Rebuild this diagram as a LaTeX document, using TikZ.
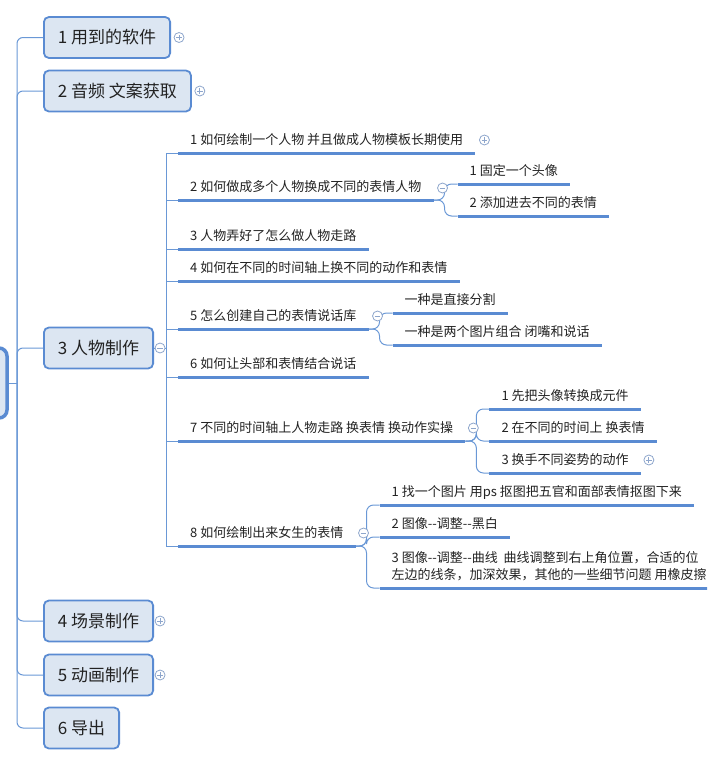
\documentclass[tikz,border=0pt]{standalone}
\usepackage{fontspec}
\usepackage{tikz}
\newfontfamily\cjk{Noto Sans CJK SC}

\definecolor{boxfill}{HTML}{DCE6F2}
\definecolor{boxline}{HTML}{5A8BD2}
\definecolor{lnk}{HTML}{6A98D6}
\definecolor{foldc}{HTML}{8EA6CC}
\definecolor{txt}{HTML}{222222}

\tikzset{
  topic/.style={draw=boxline, line width=1.8pt, fill=boxfill, rounded corners=5pt, anchor=west,
    minimum height=41pt, inner xsep=14pt, font=\cjk\fontsize{17}{20}\selectfont, text=txt},
  subtopic/.style={anchor=south west, inner xsep=12pt, inner ysep=6pt, text depth=2pt,
    align=left, font=\cjk\fontsize{13}{17}\selectfont, text=txt},
  uline/.style={draw=boxline, line width=3pt},
  conn/.style={draw=lnk, line width=1pt},
  fold/.style={circle, draw=foldc, fill=white, line width=0.8pt, minimum size=10pt, inner sep=0pt},
  foldminus/.style={fold, path picture={
    \draw[foldc, line width=0.8pt] ([xshift=-2.8pt]path picture bounding box.center) -- ([xshift=2.8pt]path picture bounding box.center);}},
  foldplus/.style={fold, path picture={
    \draw[foldc, line width=0.8pt] ([xshift=-2.8pt]path picture bounding box.center) -- ([xshift=2.8pt]path picture bounding box.center)
      ([yshift=-2.8pt]path picture bounding box.center) -- ([yshift=2.8pt]path picture bounding box.center);}},
}

\begin{document}
\begin{tikzpicture}[x=1pt, y=-1pt]
  \useasboundingbox (0,0) rectangle (707,763);
  \clip (0,0) rectangle (707,763);

  % root and main topics
  \node[draw=boxline, line width=3.5pt, fill=boxfill, rounded corners=8pt, minimum width=100pt, minimum height=70pt] (root) at (-43,383) {};
  \node[topic] (t1) at (43,37.5) {1 用到的软件};
  \node[topic] (t2) at (43,91) {2 音频 文案获取};
  \node[topic] (t3) at (43,348) {3 人物制作};
  \node[topic] (t4) at (43,621) {4 场景制作};
  \node[topic] (t5) at (43,675) {5 动画制作};
  \node[topic] (t6) at (43,728) {6 导出};

  \coordinate (trunk) at (17,383);
  \draw[conn] (root.east) -- (trunk);
  \foreach \t in {t1,t2,t3,t4,t5,t6}
    \draw[conn, rounded corners=6pt] (trunk) |- (\t.west);

  % subtopics of 3
  \node[subtopic] (s1) at (178,153) {1 如何绘制一个人物 并且做成人物模板长期使用};
  \node[subtopic] (s2) at (178,200) {2 如何做成多个人物换成不同的表情人物};
  \node[subtopic] (s3) at (178,249) {3 人物弄好了怎么做人物走路};
  \node[subtopic] (s4) at (178,281) {4 如何在不同的时间轴上换不同的动作和表情};
  \node[subtopic] (s5) at (178,329) {5 怎么创建自己的表情说话库};
  \node[subtopic] (s6) at (178,377) {6 如何让头部和表情结合说话};
  \node[subtopic] (s7) at (178,441) {7 不同的时间轴上人物走路 换表情 换动作实操};
  \node[subtopic] (s8) at (178,546) {8 如何绘制出来女生的表情};

  \coordinate (strunk) at ([xshift=12pt]t3.east);
  \draw[conn] (t3.east) -- (strunk);
  \foreach \s in {s1,s2,s3,s4,s5,s6,s7,s8}
    \draw[conn] (strunk) |- (\s.south west);

  % children
  \node[subtopic] (c21) at ([shift={(24,-16)}]s2.south east) {1 固定一个头像};
  \node[subtopic] (c22) at ([shift={(24,16)}]s2.south east) {2 添加进去不同的表情};
  \node[subtopic] (c51) at ([shift={(24,-16)}]s5.south east) {一种是直接分割};
  \node[subtopic] (c52) at ([shift={(24,16)}]s5.south east) {一种是两个图片组合 闭嘴和说话};
  \node[subtopic] (c71) at ([shift={(24,-32)}]s7.south east) {1 先把头像转换成元件};
  \node[subtopic] (c72) at ([shift={(24,0)}]s7.south east) {2 在不同的时间上 换表情};
  \node[subtopic] (c73) at ([shift={(24,32)}]s7.south east) {3 换手不同姿势的动作};
  \node[subtopic] (c81) at ([shift={(24,-41)}]s8.south east) {1 找一个图片 用ps 抠图把五官和面部表情抠图下来};
  \node[subtopic] (c82) at ([shift={(24,-9)}]s8.south east) {2 图像--调整--黑白};
  \node[subtopic] (c83) at ([shift={(24,42)}]s8.south east) {3 图像--调整--曲线~ 曲线调整到右上角位置，合适的位\\左边的线条，加深效果，其他的一些细节问题 用橡皮擦};

  \foreach \p/\c in {s2/c21,s2/c22,s5/c51,s5/c52,s7/c71,s7/c72,s7/c73,s8/c81,s8/c82,s8/c83}
    \draw[conn, rounded corners=7pt] (\p.south east) -- ++(11,0) |- (\c.south west);

  \foreach \n in {s1,s2,s3,s4,s5,s6,s7,s8,c21,c22,c51,c52,c71,c72,c73,c81,c82,c83}
    \draw[uline] (\n.south west) -- (\n.south east);

  % fold markers
  \node[foldplus] (f1) at ([xshift=8pt]t1.east) {};
  \node[foldplus] (f2) at ([xshift=8pt]t2.east) {};
  \node[foldminus] (f3) at ([xshift=6pt]t3.east) {};
  \node[foldplus] (f4) at ([xshift=6pt]t4.east) {};
  \node[foldplus] (f5) at ([xshift=6pt]t5.east) {};
  \node[foldplus] (fs1) at ([shift={(9,-13)}]s1.south east) {};
  \node[foldminus] (fs2) at ([shift={(9,-12)}]s2.south east) {};
  \node[foldminus] (fs5) at ([shift={(9,-13)}]s5.south east) {};
  \node[foldminus] (fs7) at ([shift={(8,-13)}]s7.south east) {};
  \node[foldminus] (fs8) at ([shift={(8,-13)}]s8.south east) {};
  \node[foldplus] (fc73) at ([shift={(8,-13)}]c73.south east) {};
\end{tikzpicture}
\end{document}
